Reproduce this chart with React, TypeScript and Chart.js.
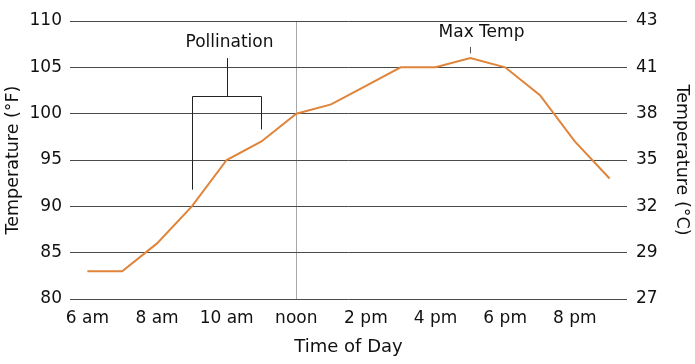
import { useEffect, useRef } from 'react';
import { Chart, registerables } from 'chart.js';

Chart.register(...registerables);

const hours = ['6 am', '7 am', '8 am', '9 am', '10 am', '11 am', 'noon', '1 pm', '2 pm', '3 pm', '4 pm', '5 pm', '6 pm', '7 pm', '8 pm', '9 pm'];
const tempF = [83, 83, 86, 90, 95, 97, 100, 101, 103, 105, 105, 106, 105, 102, 97, 93];
const celsiusTickLabels = ['27', '29', '32', '35', '38', '41', '43'];

// Pollination bracket (in category names and °F values)
const pollinationFrom = '9 am';
const pollinationTo = '11 am';
const pollinationLegEnds = [91.8, 98.3];
const pollinationBarLevel = 101.9;
const pollinationStemTop = 106;
const pollinationLabelLevel = 107.7;

// Max temp marker
const maxTempHour = '5 pm';
const maxTempTickRange = [106.5, 107.2];
const maxTempLabelLevel = 108.7;

const FONT = '"DejaVu Sans", sans-serif';
const TEXT = '#111';

const annotations = {
  id: 'annotations',
  afterDatasetsDraw(chart: any) {
    const { ctx, scales } = chart;
    const x = scales.x;
    const y = scales.y;
    ctx.save();
    ctx.strokeStyle = '#222';
    ctx.lineWidth = 1;
    const x1 = Math.round(x.getPixelForValue(hours.indexOf(pollinationFrom))) + 0.5;
    const x2 = Math.round(x.getPixelForValue(hours.indexOf(pollinationTo))) + 0.5;
    const xm = Math.round((x1 + x2) / 2) + 0.5;
    const yBar = Math.round(y.getPixelForValue(pollinationBarLevel)) + 0.5;
    ctx.beginPath();
    ctx.moveTo(x1, y.getPixelForValue(pollinationLegEnds[0]));
    ctx.lineTo(x1, yBar);
    ctx.lineTo(x2, yBar);
    ctx.lineTo(x2, y.getPixelForValue(pollinationLegEnds[1]));
    ctx.moveTo(xm, yBar);
    ctx.lineTo(xm, y.getPixelForValue(pollinationStemTop));
    ctx.stroke();

    ctx.fillStyle = TEXT;
    ctx.font = `17px ${FONT}`;
    ctx.textAlign = 'center';
    ctx.textBaseline = 'middle';
    ctx.fillText('Pollination', xm + 2, y.getPixelForValue(pollinationLabelLevel));

    const xt = Math.round(x.getPixelForValue(hours.indexOf(maxTempHour))) + 0.5;
    ctx.strokeStyle = '#555';
    ctx.beginPath();
    ctx.moveTo(xt, y.getPixelForValue(maxTempTickRange[0]));
    ctx.lineTo(xt, y.getPixelForValue(maxTempTickRange[1]));
    ctx.stroke();
    ctx.fillText('Max Temp', xt + 11, y.getPixelForValue(maxTempLabelLevel));
    ctx.restore();
  },
};

export default function App() {
  const ref = useRef<HTMLCanvasElement>(null);
  useEffect(() => {
    if (!ref.current) return;
    const chart = new Chart(ref.current, {
      type: 'line',
      data: {
        labels: hours,
        datasets: [
          {
            data: tempF,
            borderColor: '#E0843A',
            borderWidth: 2,
            pointRadius: 0,
            tension: 0,
            fill: false,
            yAxisID: 'y',
          },
        ],
      },
      options: {
        animation: false,
        responsive: true,
        maintainAspectRatio: false,
        layout: { padding: { top: 21, left: 0, right: 0, bottom: 0 } },
        plugins: { legend: { display: false }, tooltip: { enabled: false } },
        scales: {
          x: {
            offset: true,
            border: { display: false },
            grid: {
              offset: false,
              drawTicks: false,
              color: (c: any) => (c.index === hours.indexOf('noon') ? '#a8a8a8' : 'rgba(0,0,0,0)'),
            },
            ticks: {
              autoSkip: false,
              maxRotation: 0,
              padding: 9,
              color: TEXT,
              font: { family: FONT, size: 17 },
              callback: (_v: any, i: number) => (i % 2 === 0 ? hours[i] : ''),
            },
            title: {
              display: true,
              text: 'Time of Day',
              color: TEXT,
              font: { family: FONT, size: 18 },
              padding: { top: 0, bottom: 6 },
            },
            afterFit: (s: any) => {
              s.height = 65;
            },
          },
          y: {
            position: 'left',
            min: 80,
            max: 110,
            border: { display: false },
            grid: { color: '#4a4a4a', drawTicks: false },
            ticks: {
              stepSize: 5,
              padding: 8,
              color: TEXT,
              font: { family: FONT, size: 17 },
            },
            title: {
              display: true,
              text: 'Temperature (°F)',
              color: TEXT,
              font: { family: FONT, size: 17.5 },
              padding: { top: 3, bottom: 0 },
            },
            afterFit: (s: any) => {
              s.width = 70;
            },
          },
          y2: {
            position: 'right',
            min: 80,
            max: 110,
            border: { display: false },
            grid: { display: false, drawTicks: false },
            ticks: {
              stepSize: 5,
              padding: 9,
              color: TEXT,
              font: { family: FONT, size: 17 },
              callback: (_v: any, i: number) => celsiusTickLabels[i],
            },
            title: {
              display: true,
              text: 'Temperature (°C)',
              color: TEXT,
              font: { family: FONT, size: 17.5 },
              padding: { top: 3, bottom: 0 },
            },
            afterFit: (s: any) => {
              s.width = 68;
            },
          },
        },
      },
      plugins: [annotations],
    });
    return () => chart.destroy();
  }, []);
  return (
    <div style={{ position: 'fixed', left: 0, top: 0, width: 695, height: 364 }}>
      <canvas ref={ref} />
    </div>
  );
}
